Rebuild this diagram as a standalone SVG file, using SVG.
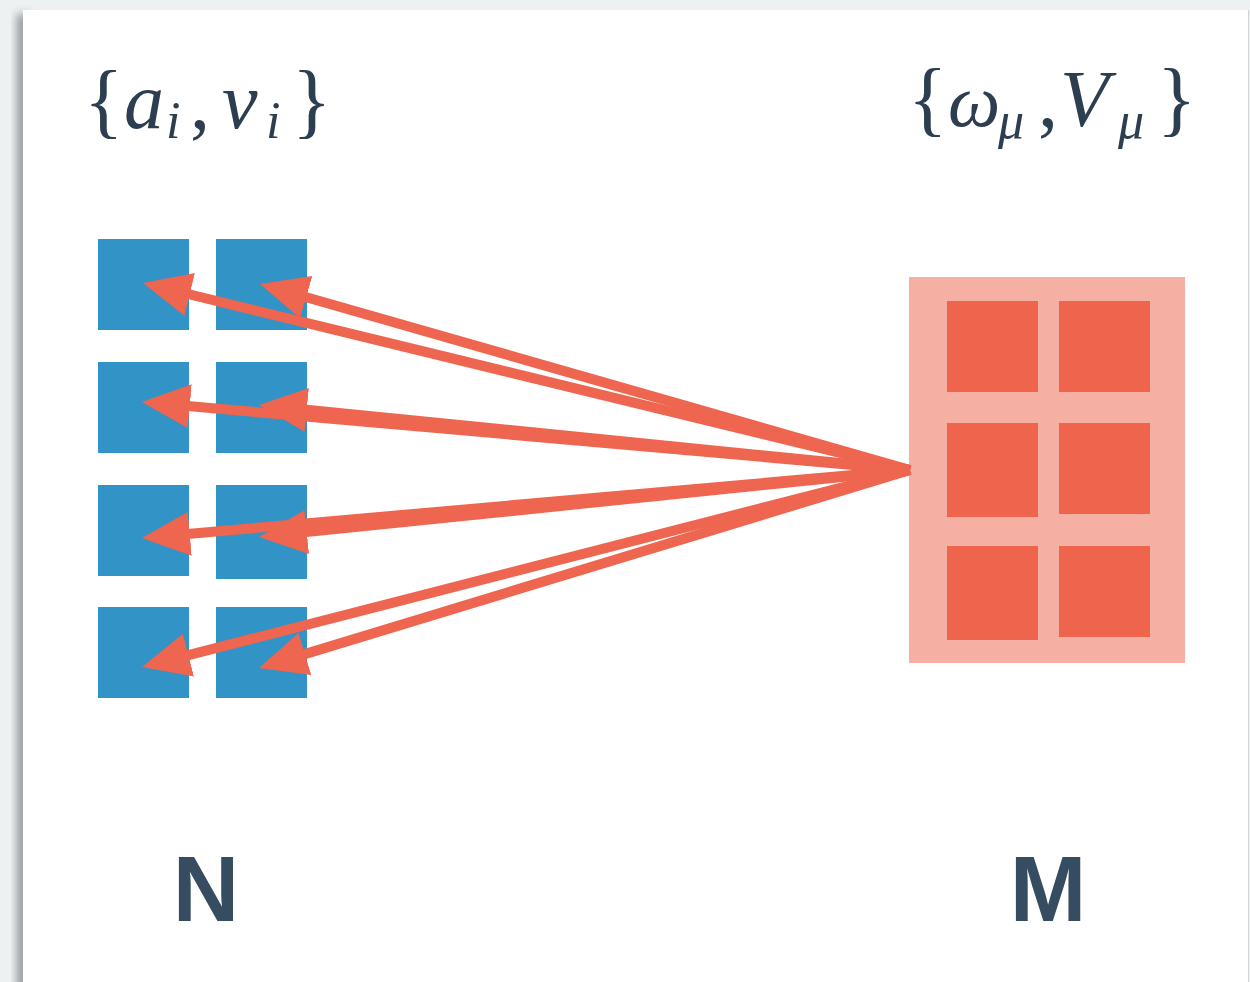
<svg xmlns="http://www.w3.org/2000/svg" width="1250" height="982" viewBox="0 0 1250 982">
  <style>
    .cell-n { fill: #3293c6; }
    .cell-m { fill: #ee644c; }
    .frame-m { fill: #f5b0a3; }
    .link { stroke: #ee6550; stroke-width: 10; fill: none; marker-end: url(#head); }
    .math { font-family: "Liberation Serif", "DejaVu Serif", serif; fill: #2c3e50; }
    .it { font-style: italic; }
    .label { font-family: "Liberation Sans", Arial, sans-serif; font-weight: bold; font-size: 92px; fill: #364d61; text-anchor: middle; }
  </style>
  <defs>
    <marker id="head" viewBox="0 0 48 44" refX="8" refY="22" markerWidth="48" markerHeight="44" markerUnits="userSpaceOnUse" orient="auto">
      <path d="M0,0 L48,22 L0,44 Z" fill="#ee6550"/>
    </marker>
    <filter id="soft" x="-50%" y="-10%" width="200%" height="120%">
      <feGaussianBlur stdDeviation="5"/>
    </filter>
  </defs>

  <!-- page and card -->
  <rect x="0" y="0" width="1250" height="982" fill="#edf1f2"/>
  <rect x="17" y="14" width="12" height="990" fill="#8f969a" filter="url(#soft)"/>
  <rect x="23" y="10" width="1225" height="990" fill="#ffffff"/>
  <line x1="1248.5" y1="10" x2="1248.5" y2="982" stroke="#cfd4d6" stroke-width="1"/>

  <!-- set labels -->
  <g id="label-n-set">
    <text class="math" font-size="80">
      <tspan x="84" y="128" font-size="82">{</tspan>
      <tspan class="it" x="124" y="128">a</tspan>
      <tspan class="it" x="166" y="138" font-size="52">i</tspan>
      <tspan x="190" y="128">,</tspan>
      <tspan class="it" x="222" y="128">v</tspan>
      <tspan class="it" x="266" y="138" font-size="52">i</tspan>
      <tspan x="292" y="128" font-size="82">}</tspan>
    </text>
  </g>
  <g id="label-m-set">
    <text class="math" font-size="80">
      <tspan x="908" y="126" font-size="82">{</tspan>
      <tspan class="it" x="948" y="126" font-size="74">ω</tspan>
      <tspan class="it" x="998" y="138" font-size="52">μ</tspan>
      <tspan x="1038" y="126">,</tspan>
      <tspan class="it" x="1060" y="126">V</tspan>
      <tspan class="it" x="1118" y="138" font-size="52">μ</tspan>
      <tspan x="1157" y="126" font-size="82">}</tspan>
    </text>
  </g>

  <!-- N nodes -->
  <g id="nodes-n">
    <rect class="cell-n" x="98" y="239" width="91" height="91"/>
    <rect class="cell-n" x="216" y="239" width="91" height="91"/>
    <rect class="cell-n" x="98" y="362" width="91" height="91"/>
    <rect class="cell-n" x="216" y="362" width="91" height="91"/>
    <rect class="cell-n" x="98" y="485" width="91" height="91"/>
    <rect class="cell-n" x="216" y="485" width="91" height="94"/>
    <rect class="cell-n" x="98" y="607" width="91" height="91"/>
    <rect class="cell-n" x="216" y="607" width="91" height="91"/>
  </g>

  <!-- M block -->
  <g id="node-m">
    <rect class="frame-m" x="909" y="277" width="276" height="386"/>
    <rect class="cell-m" x="947" y="301" width="91" height="91"/>
    <rect class="cell-m" x="1059" y="301" width="91" height="91"/>
    <rect class="cell-m" x="947" y="423" width="91" height="94"/>
    <rect class="cell-m" x="1059" y="423" width="91" height="91"/>
    <rect class="cell-m" x="947" y="546" width="91" height="94"/>
    <rect class="cell-m" x="1059" y="546" width="91" height="91"/>
  </g>

  <!-- connectors from M to each N node -->
  <g id="connectors">
    <line class="link" x1="910" y1="470" x2="181.9" y2="292.5"/>
    <line class="link" x1="910" y1="470" x2="298.5" y2="295.0"/>
    <line class="link" x1="910" y1="470" x2="181.8" y2="405.5"/>
    <line class="link" x1="910" y1="470" x2="298.8" y2="409.0"/>
    <line class="link" x1="910" y1="470" x2="181.8" y2="534.5"/>
    <line class="link" x1="910" y1="470" x2="298.8" y2="532.9"/>
    <line class="link" x1="910" y1="470" x2="180.7" y2="657.1"/>
    <line class="link" x1="910" y1="470" x2="297.3" y2="656.4"/>
  </g>

  <!-- size labels -->
  <g id="label-n">
    <text class="label" x="206" y="921">N</text>
  </g>
  <g id="label-m">
    <text class="label" x="1048" y="921">M</text>
  </g>
</svg>
